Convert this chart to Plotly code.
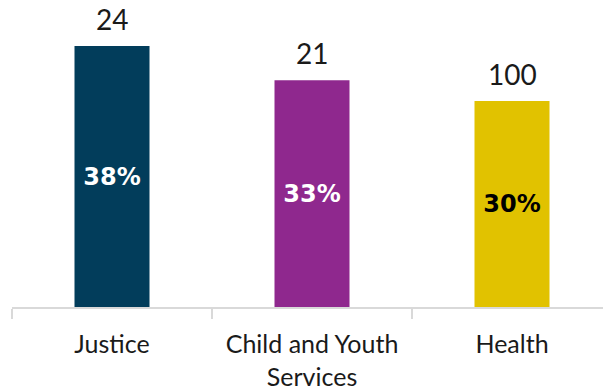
import plotly.graph_objects as go

categories = ["Justice", "Child and Youth<br>Services", "Health"]
percent_values = [38, 33, 30]
counts = [24, 21, 100]
bar_colors = ["#023d5b", "#8f288e", "#e1c200"]
inside_text_colors = ["#ffffff", "#ffffff", "#000000"]

fig = go.Figure()
fig.add_trace(go.Bar(
    x=categories,
    y=percent_values,
    marker=dict(color=bar_colors, line=dict(width=0)),
    text=[f"{v}%" for v in percent_values],
    textposition="inside",
    insidetextanchor="middle",
    textfont=dict(family="DejaVu Sans", size=24, color=inside_text_colors, weight="bold"),
    cliponaxis=False,
    hoverinfo="skip",
))

for c, v, n in zip(categories, percent_values, counts):
    fig.add_annotation(
        x=c, y=v, text=str(n), showarrow=False,
        yanchor="bottom", yshift=9, borderpad=0,
        font=dict(family="Lato", size=28, color="#1a1a1a"),
    )

fig.update_layout(
    template="none",
    width=603, height=391,
    margin=dict(l=12, r=0, t=0, b=84, pad=0),
    paper_bgcolor="white", plot_bgcolor="white",
    bargap=0.625,
    showlegend=False,
    hovermode=False,
    xaxis=dict(
        type="category",
        automargin=False,
        range=[-0.5, 2.455],
        showline=True, linecolor="#d9d9d9", linewidth=2,
        ticks="outside", tickson="boundaries", ticklen=10, tickcolor="#d9d9d9", tickwidth=2,
        showgrid=False, zeroline=False,
        tickfont=dict(family="Lato", size=25, color="#1a1a1a"),
        ticklabelstandoff=14,
    ),
    yaxis=dict(
        automargin=False,
        range=[0, 44.7], visible=False, showgrid=False, zeroline=False,
    ),
)

# Remove the browser's default 8px body margin so the figure fills the window.
fig.write_html(
    "out.html",
    config={"displayModeBar": False},
    post_script="document.body.style.margin='0';",
)
